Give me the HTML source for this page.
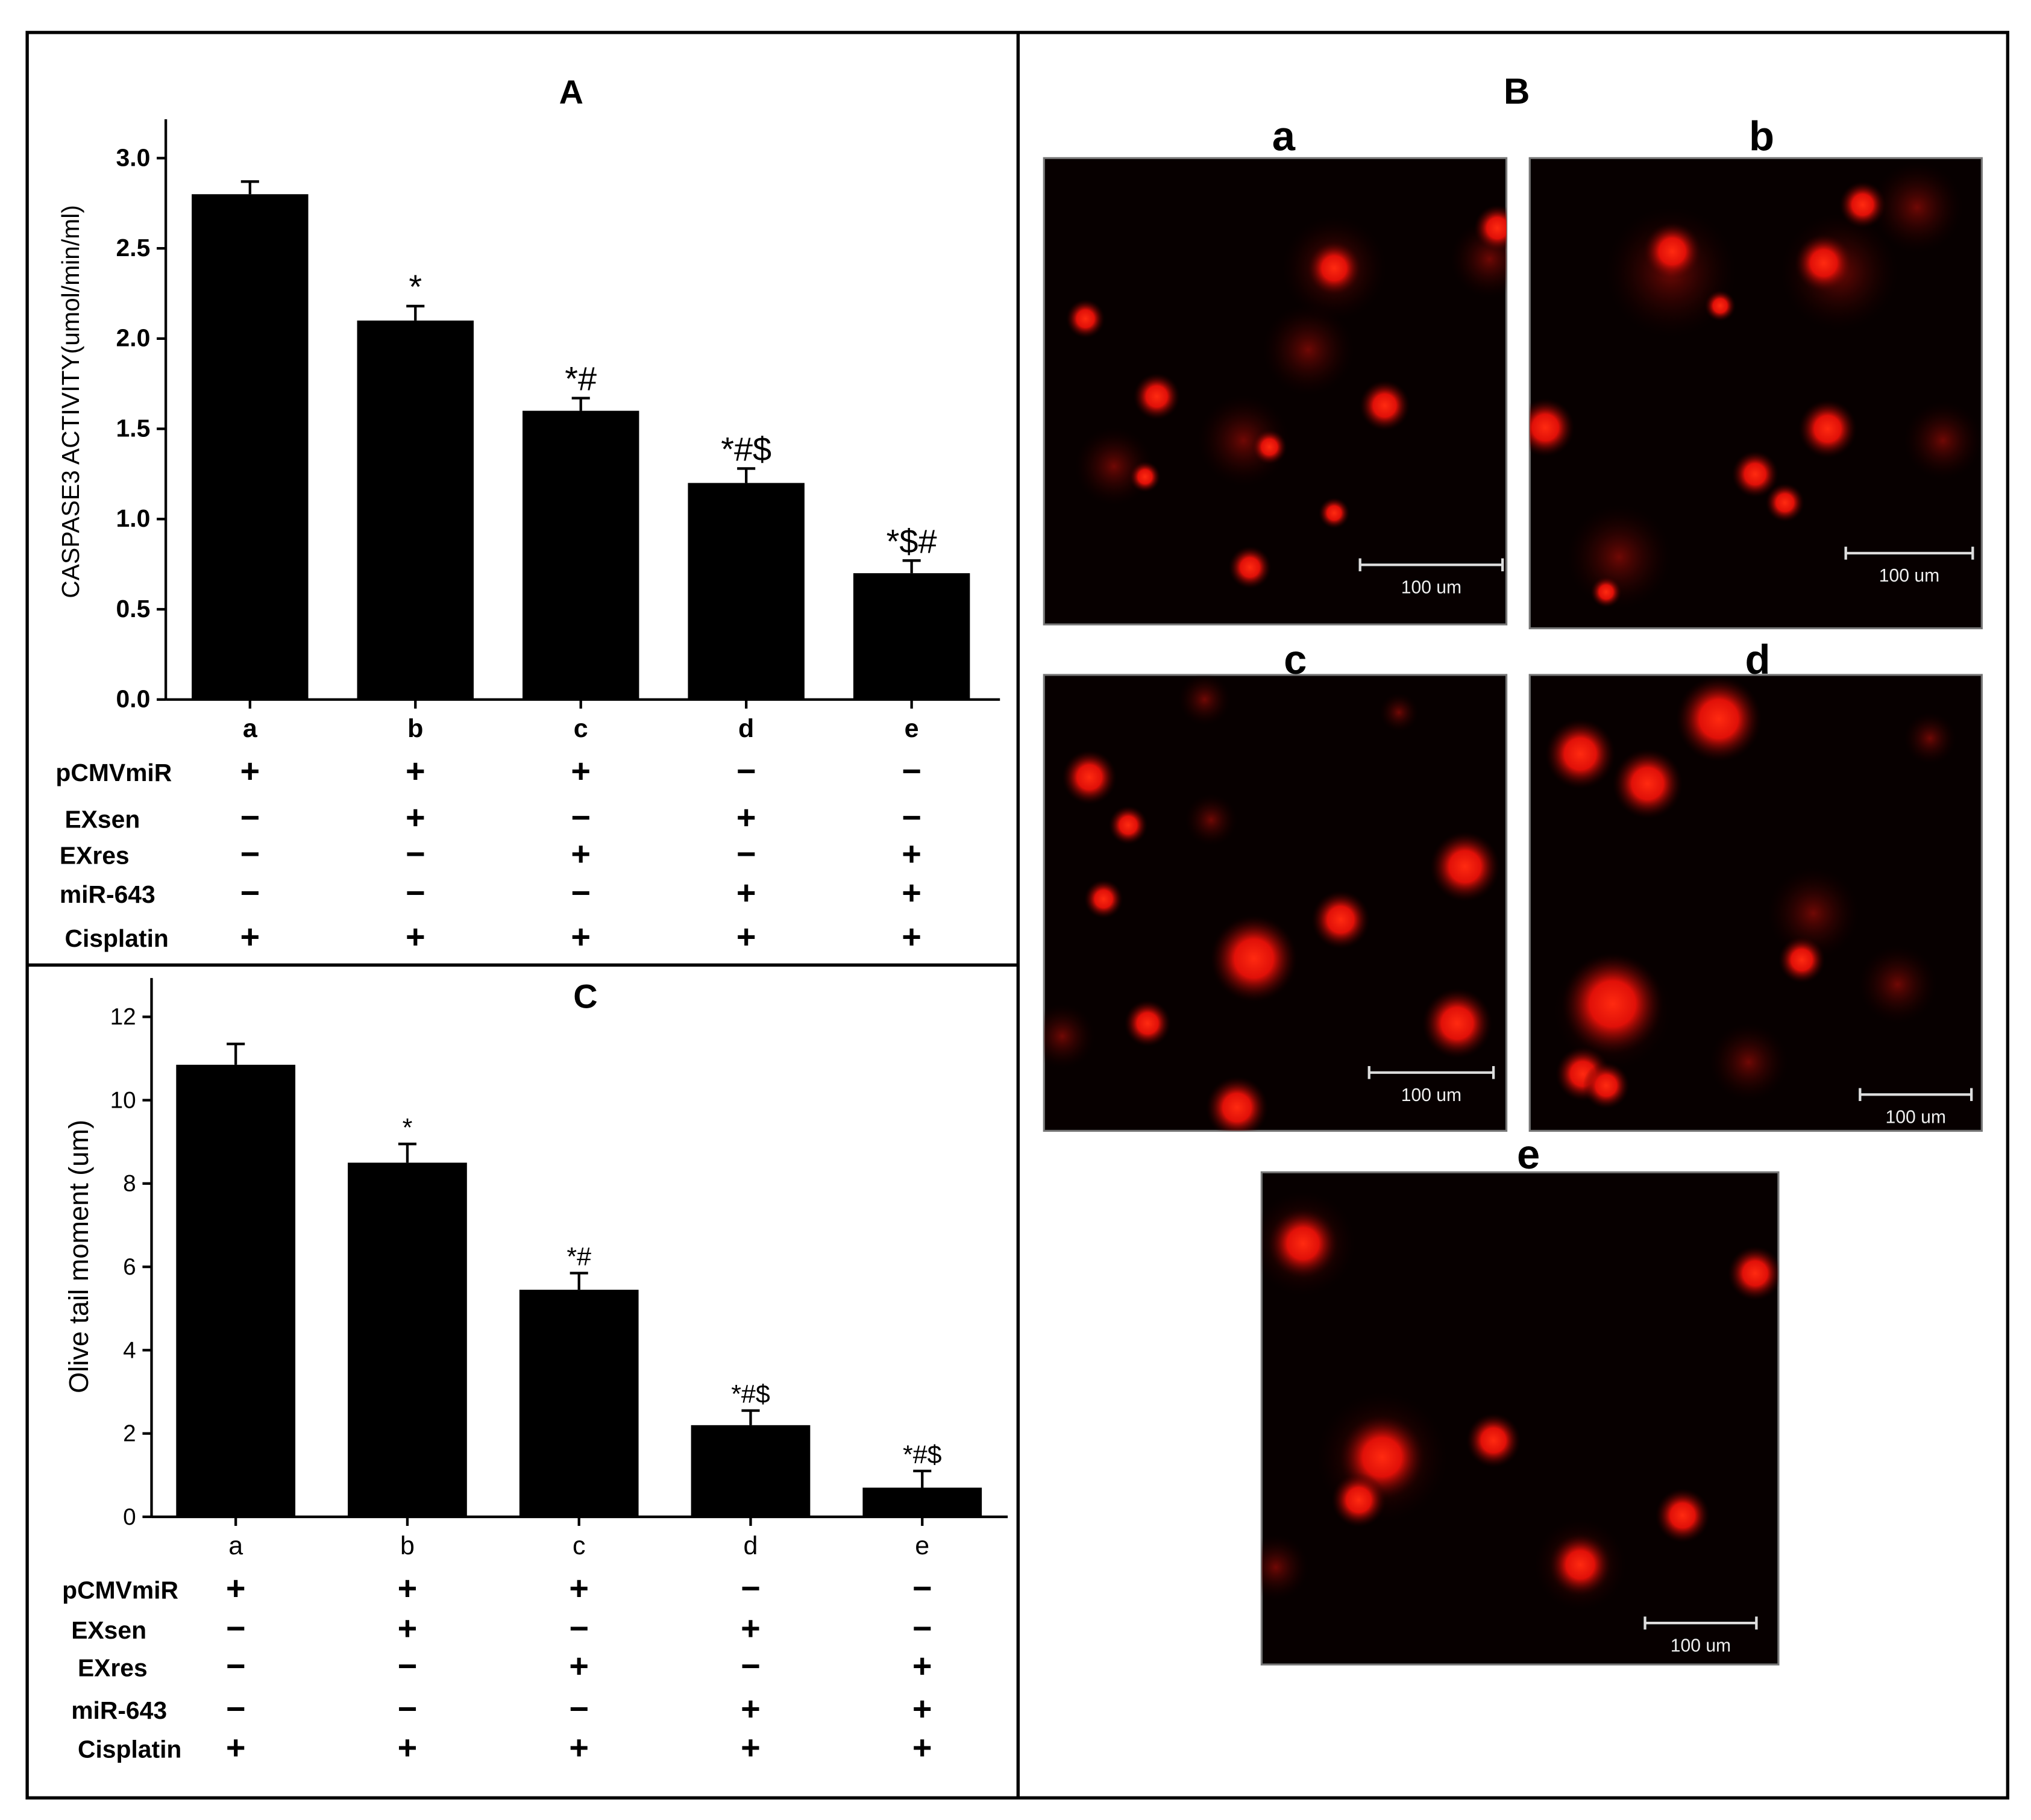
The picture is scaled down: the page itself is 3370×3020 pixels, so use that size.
<!DOCTYPE html>
<html><head><meta charset="utf-8"><style>
html,body{margin:0;padding:0;background:#fff}
svg{display:block}
text{font-family:"Liberation Sans",sans-serif}
</style></head><body>
<svg id="fig" width="3370" height="3020" viewBox="0 0 1568 1405" xmlns="http://www.w3.org/2000/svg">
<defs>
<radialGradient id="blob"><stop offset="0" stop-color="#ff2a10"/><stop offset="0.45" stop-color="#e01008"/><stop offset="1" stop-color="#300000" stop-opacity="0"/></radialGradient>
<radialGradient id="haze"><stop offset="0" stop-color="#8a0a05"/><stop offset="1" stop-color="#200000" stop-opacity="0"/></radialGradient>
</defs>
<rect x="0" y="0" width="1568" height="1405" fill="#fff"/>
<rect x="21" y="25" width="1529" height="1363" fill="none" stroke="#000" stroke-width="2.5"/>
<line x1="786" y1="25" x2="786" y2="1388" stroke="#000" stroke-width="2.5"/>
<line x1="21" y1="745" x2="786" y2="745" stroke="#000" stroke-width="2.5"/>
<g id="chartA"></g>
<g id="chartC"></g>
<g id="panelB"></g>
</svg>
<script>
const NS="http://www.w3.org/2000/svg";
const catsA=["a","b","c","d","e"];
const valsA=[2.8,2.1,1.6,1.2,0.7];
const errA=[0.07,0.08,0.07,0.08,0.07];
const sigA=["","*","*#","*#$","*$#"];
const ticksA=[0,0.5,1,1.5,2,2.5,3];
const valsC=[10.85,8.5,5.45,2.2,0.7];
const errC=[0.5,0.45,0.4,0.35,0.4];
const sigC=["","*","*#","*#$","*#$"];
const ticksC=[0,2,4,6,8,10,12];
const rowNames=["pCMVmiR","EXsen","EXres","miR-643","Cisplatin"];
const rowSigns=[["+","+","+","−","−"],["−","+","−","+","−"],["−","−","+","−","+"],["−","−","−","+","+"],["+","+","+","+","+"]];
function el(p,t,a,txt){const e=document.createElementNS(NS,t);for(const k in a)e.setAttribute(k,a[k]);if(txt!==undefined)e.textContent=txt;p.appendChild(e);return e;}
function chart(g,o){
 const y=v=>o.y0-(v-o.vmin)/(o.vmax-o.vmin)*(o.y0-o.y1);
 const x=i=>o.xc0+i*o.dx;
 let t=el(g,"text",{x:o.titleX,y:o.titleY,"font-size":26,"font-weight":"bold","text-anchor":"middle"},o.title);
 
 
 el(g,"line",{x1:o.ax,y1:o.y0,x2:o.ax,y2:o.y1-30,stroke:"#000","stroke-width":2});
 el(g,"line",{x1:o.ax,y1:o.y0,x2:o.xend,y2:o.y0,stroke:"#000","stroke-width":2});
 o.ticks.forEach(v=>{el(g,"line",{x1:o.ax-7,y1:y(v),x2:o.ax,y2:y(v),stroke:"#000","stroke-width":2});
  const tl=el(g,"text",{x:o.ax-12,y:y(v)+6,"font-size":o.tfs,"font-weight":o.bold?"bold":"normal","text-anchor":"end"},o.fmt(v));
  
  });
 const yl=el(g,"text",{transform:`translate(${o.ylx},${o.yly}) rotate(-90)`,"font-size":o.ylfs,"text-anchor":"middle"},o.ylabel);
 
 
 o.vals.forEach((v,i)=>{
  const cx=x(i);
  el(g,"line",{x1:cx,y1:o.y0,x2:cx,y2:o.y0+7,stroke:"#000","stroke-width":2});
  const b=el(g,"rect",{x:cx-o.bw/2,y:y(v),width:o.bw,height:o.y0-y(v),fill:"#000"});
  
  
  const te=y(v+o.err[i]);
  el(g,"line",{x1:cx,y1:y(v),x2:cx,y2:te,stroke:"#000","stroke-width":2});
  el(g,"line",{x1:cx-7,y1:te,x2:cx+7,y2:te,stroke:"#000","stroke-width":2});
  if(o.sig[i]){const s=el(g,"text",{x:cx,y:te-6,"font-size":o.sfs,"text-anchor":"middle"},o.sig[i]);
   
   }
  const c=el(g,"text",{x:cx,y:o.y0+29,"font-size":20,"font-weight":o.bold?"bold":"normal","text-anchor":"middle"},catsA[i]);
  
  
  rowSigns.forEach((r,ri)=>{const s=el(g,"text",{x:cx+(o.rowOff?o.rowOff[ri]:0),y:o.rows[ri]+8,"font-size":26,"font-weight":"bold","text-anchor":"middle"},r[i]);
   
   });
 });
 rowNames.forEach((n,ri)=>{const s=el(g,"text",{x:o.rowX[ri],y:o.rows[ri]+7,"font-size":19,"font-weight":"bold"},n);
  
  });
}
chart(document.getElementById("chartA"),{title:"A",titleX:441,titleY:80,ax:128,y0:540,y1:122,vmin:0,vmax:3,xc0:193,dx:127.7,bw:90,xend:772,
 ticks:ticksA,fmt:v=>v.toFixed(1),tfs:19,bold:true,vals:valsA,err:errA,sig:sigA,sfs:26,ylabel:"CASPASE3 ACTIVITY(umol/min/ml)",ylx:61,yly:310,ylfs:19,
 rows:[596,632,660,690,724],rowX:[43,50,46,46,50]});
chart(document.getElementById("chartC"),{title:"C",titleX:452,titleY:778,ax:117,y0:1171,y1:785,vmin:0,vmax:12,xc0:182,dx:132.5,bw:92,xend:778,
 ticks:ticksC,fmt:v=>String(v),tfs:18,bold:false,vals:valsC,err:errC,sig:sigC,sfs:20,ylabel:"Olive tail moment (um)",ylx:68,yly:970,ylfs:21,
 rows:[1227,1258,1287,1320,1350],rowX:[48,55,60,55,60]});
// panel B
const pb=document.getElementById("panelB");
const bt=el(pb,"text",{x:1171,y:80,"font-size":28,"font-weight":"bold","text-anchor":"middle"},"B");


const imgs=[
 {n:"a",x:806,y:122,w:357,h:360,lx:991,ly:116,sb:[1050,1160,436],st:"100 um",blobs:[[1030,207,14],[893,306,12],[1069,313,13],[965,438,11],[1156,176,12],[838,246,10],[980,345,9],[884,368,8],[1030,396,8]],haze:[[1030,207,40],[960,340,35],[1010,270,35],[860,360,30],[1150,200,30]]},
 {n:"b",x:1181,y:122,w:349,h:363,lx:1360,ly:116,sb:[1425,1523,427],st:"100 um",blobs:[[1291,194,15],[1408,203,15],[1411,331,15],[1193,330,15],[1355,366,12],[1378,388,10],[1438,158,12],[1328,236,8],[1240,457,8]],haze:[[1290,210,50],[1420,210,45],[1250,430,40],[1480,160,35],[1500,340,30]]},
 {n:"c",x:806,y:521,w:357,h:352,lx:1000,ly:520,sb:[1057,1153,828],st:"100 um",blobs:[[841,600,14],[871,637,10],[1131,669,18],[1035,710,15],[852,694,10],[886,790,12],[955,855,16],[1125,790,18],[968,740,22]],haze:[[930,540,20],[935,633,20],[968,740,35],[820,800,25],[1080,550,15]]},
 {n:"d",x:1181,y:521,w:349,h:352,lx:1357,ly:520,sb:[1436,1522,845],st:"100 um",blobs:[[1327,555,22],[1220,582,18],[1272,605,18],[1391,741,12],[1222,829,14],[1240,838,12],[1245,775,26]],haze:[[1245,780,45],[1400,705,35],[1465,760,30],[1490,570,20],[1350,820,30]]},
 {n:"e",x:974,y:905,w:399,h:380,lx:1180,ly:902,sb:[1270,1356,1253],st:"100 um",blobs:[[1006,960,18],[1355,983,14],[1067,1125,22],[1049,1158,14],[1153,1112,14],[1299,1170,14],[1220,1208,16]],haze:[[1006,960,40],[1067,1125,50],[1220,1208,35],[985,1210,25]]}
];
imgs.forEach(m=>{
 const g=el(pb,"g",{});
 
 
 el(g,"rect",{x:m.x,y:m.y,width:m.w,height:m.h,fill:"#070000",stroke:"#777","stroke-width":1.5});
 const cp="cp"+m.n; const d=el(pb,"clipPath",{id:cp}); el(d,"rect",{x:m.x,y:m.y,width:m.w,height:m.h});
 const gi=el(g,"g",{"clip-path":`url(#${cp})`});
 m.haze.forEach(h=>el(gi,"circle",{cx:h[0],cy:h[1],r:h[2],fill:"url(#haze)",opacity:0.8}));
 m.blobs.forEach(b=>el(gi,"circle",{cx:b[0],cy:b[1],r:b[2]*1.5,fill:"url(#blob)"}));
 el(g,"line",{x1:m.sb[0],y1:m.sb[2],x2:m.sb[1],y2:m.sb[2],stroke:"#ddd","stroke-width":2});
 el(g,"line",{x1:m.sb[0],y1:m.sb[2]-5,x2:m.sb[0],y2:m.sb[2]+5,stroke:"#ddd","stroke-width":2});
 el(g,"line",{x1:m.sb[1],y1:m.sb[2]-5,x2:m.sb[1],y2:m.sb[2]+5,stroke:"#ddd","stroke-width":2});
 const s=el(g,"text",{x:(m.sb[0]+m.sb[1])/2,y:m.sb[2]+22,"font-size":14,fill:"#eee","text-anchor":"middle"},m.st);
 
 
 const l=el(pb,"text",{x:m.lx,y:m.ly,"font-size":32,"font-weight":"bold","text-anchor":"middle"},m.n);
 
 
});
</script>
</body></html>
